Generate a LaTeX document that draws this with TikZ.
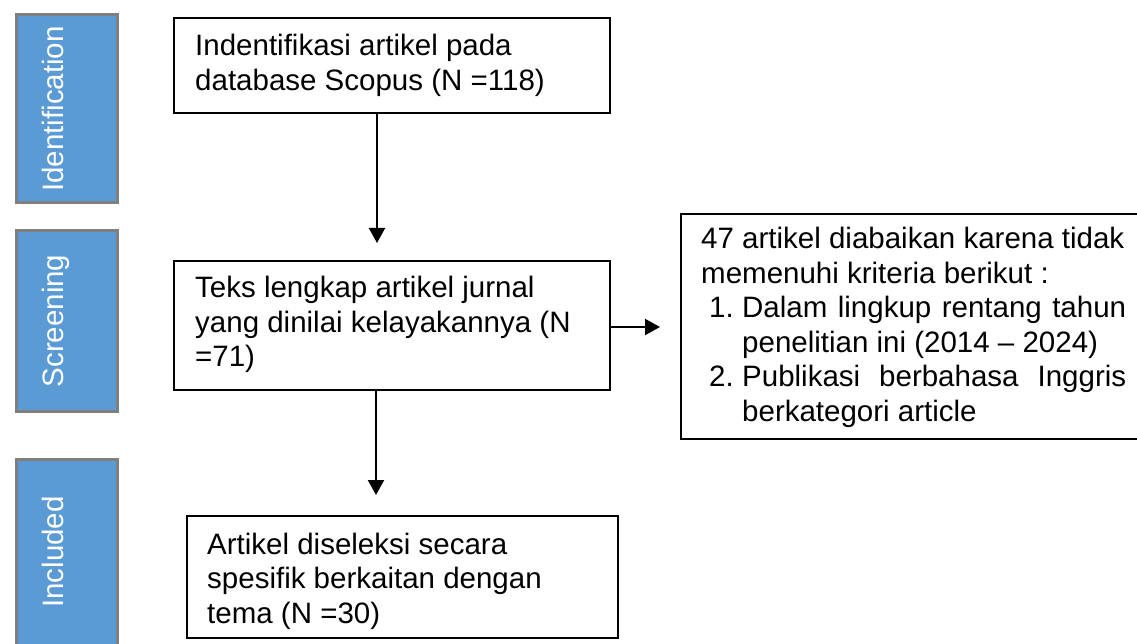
\documentclass[tikz,border=0pt]{standalone}
\usepackage{fontspec}
\setmainfont{Liberation Sans}
\usetikzlibrary{arrows.meta}
\definecolor{barblue}{HTML}{5B9BD5}
\definecolor{bargray}{HTML}{7F7F7F}
\begin{document}
\begin{tikzpicture}[x=1pt,y=-1pt,
  stagebar/.style={draw=bargray, fill=barblue, line width=3pt, anchor=north west, inner sep=0, minimum width=101pt},
  stagetext/.style={rotate=90, anchor=base, text=white, inner sep=0, font=\fontsize{29.5}{34.5}\selectfont},
  flowbox/.style={draw=black, line width=2.2pt, anchor=north west, inner sep=0},
  boxtext/.style={anchor=base west, inner sep=0, font=\fontsize{29.5}{34.5}\selectfont},
  arr/.style={line width=2.2pt, -{Triangle[width=16pt,length=15pt]}}
]
\useasboundingbox (0,0) rectangle (1137,644);
\clip (0,0) rectangle (1137,644);
\fill[white] (0,0) rectangle (1137,644);

% stage bars
\node[stagebar, minimum height=188pt] (sid) at (14.5,13.5) {};
\node[stagebar, minimum height=180pt] (sscr) at (14.5,229.5) {};
\node[stagebar, minimum height=200pt] (sinc) at (14.5,457.5) {};
\node[stagetext] (tid) at (63,109) {Identification};
\node[stagetext] (tscr) at (63,321) {Screening};
\node[stagetext] (tinc) at (63,552) {Included};

% boxes
\node[flowbox, minimum width=436pt, minimum height=95pt] (b1) at (173,17) {};
\node[boxtext] (x1) at (195,56) {\parbox[t]{400pt}{Indentifikasi artikel pada\\database Scopus (N =118)}};

\node[flowbox, minimum width=436pt, minimum height=129pt] (b2) at (173,260) {};
\node[boxtext] (x2) at (195,298) {\parbox[t]{400pt}{Teks lengkap artikel jurnal\\yang dinilai kelayakannya (N\\=71)}};

\node[flowbox, minimum width=431pt, minimum height=122pt] (b4) at (186,515) {};
\node[boxtext] (x4) at (207,554) {\parbox[t]{400pt}{Artikel diseleksi secara\\spesifik berkaitan dengan\\tema (N =30)}};

\node[flowbox, minimum width=480pt, minimum height=225pt] (b3) at (680,213) {};
\node[boxtext] (x3) at (701,249) {\parbox[t]{440pt}{47 artikel diabaikan karena tidak\\
memenuhi kriteria berikut :\\
\hspace*{8pt}\makebox[33pt][l]{1.}\makebox[384pt][s]{Dalam lingkup rentang tahun}\\
\hspace*{41pt}penelitian ini (2014 – 2024)\\
\hspace*{8pt}\makebox[33pt][l]{2.}\makebox[384pt][s]{Publikasi berbahasa Inggris}\\
\hspace*{41pt}berkategori article}};

% connectors
\coordinate (t1) at (377,243);
\coordinate (t2) at (660,327);
\coordinate (t3) at (376,495);
\draw[arr] (b1.south -| t1) -- (t1);
\draw[arr] (b2.east |- t2) -- (t2);
\draw[arr] (b2.south -| t3) -- (t3);
\end{tikzpicture}
\end{document}
